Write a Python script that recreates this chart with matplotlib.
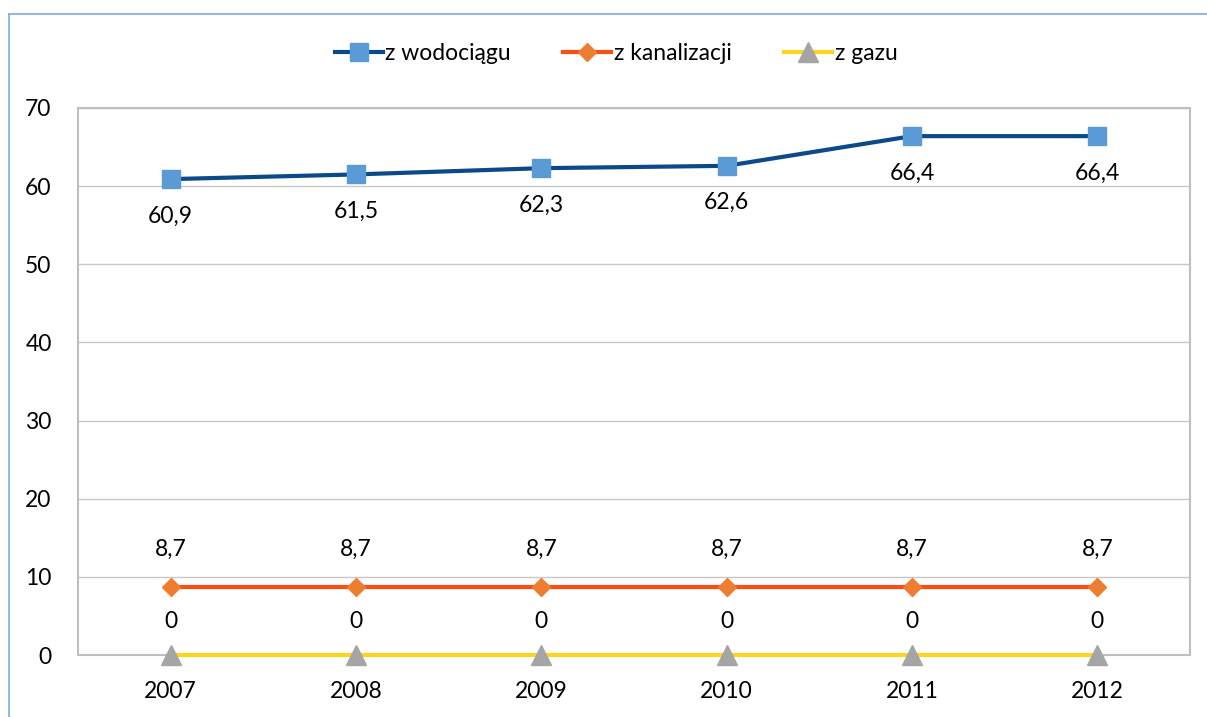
import matplotlib
matplotlib.use("Agg")
import matplotlib.pyplot as plt
from matplotlib.lines import Line2D

years = ["2007", "2008", "2009", "2010", "2011", "2012"]
wodociag = [60.9, 61.5, 62.3, 62.6, 66.4, 66.4]
kanalizacja = [8.7, 8.7, 8.7, 8.7, 8.7, 8.7]
gaz = [0, 0, 0, 0, 0, 0]
series_names = ["z wodociągu", "z kanalizacji", "z gazu"]
y_ticks = [0, 10, 20, 30, 40, 50, 60, 70]

plt.rcParams['font.family'] = ['Lato', 'DejaVu Sans']
FS = 16.5

W, H = 1207, 717
fig = plt.figure(figsize=(W / 100, H / 100), dpi=100)
ax = fig.add_axes([78 / W, 1 - 655 / H, (1190 - 78) / W, (655 - 108) / H])

x = list(range(len(years)))
styles = [
    dict(color="#0B4A8A", marker="s", mfc="#5B9BD5", mec="#5B9BD5", ms=13.5, lw=3.0),
    dict(color="#FC4E14", marker="D", mfc="#ED7D31", mec="#ED7D31", ms=9.5, lw=3.0),
    dict(color="#FFD320", marker="^", mfc="#A5A5A5", mec="#A5A5A5", ms=14, lw=3.0),
]
data = [wodociag, kanalizacja, gaz]
offsets = [-37, 38, 34]
handles = []
for vals, st, name, off in zip(data, styles, series_names, offsets):
    h, = ax.plot(x, vals, label=name, zorder=3, clip_on=False, **st)
    handles.append(h)
    for xi, v in zip(x, vals):
        txt = ("%g" % v).replace(".", ",")
        ax.annotate(txt, (xi, v), xytext=(0, off * 0.72), textcoords="offset points",
                    ha="center", va="center", fontsize=FS, color="#000000")

ax.set_xlim(-0.5, len(years) - 0.5)
ax.set_ylim(0, 70)
ax.set_yticks(y_ticks)
ax.set_yticklabels([str(t) for t in y_ticks], fontsize=FS)
ax.set_xticks(x)
ax.set_xticklabels(years, fontsize=FS)
ax.tick_params(axis="both", length=0)
ax.tick_params(axis="y", pad=19)
ax.tick_params(axis="x", pad=19)
ax.grid(axis="y", color="#C8C8C8", lw=1.0, zorder=0)
for s in ax.spines.values():
    s.set_color("#BFBFBF")
    s.set_linewidth(1.5)

fig.legend(handles=handles, loc="center", bbox_to_anchor=(616 / W, 1 - 54 / H),
           ncol=3, frameon=False, fontsize=FS, handlelength=2.1, handletextpad=0.1,
           columnspacing=2.3)

# outer chart border (left and top visible)
fig.add_artist(Line2D([9 / W, 9 / W], [0, 1 - 14 / H], transform=fig.transFigure,
                      color="#7EAEDB", lw=1.2))
fig.add_artist(Line2D([9 / W, 1], [1 - 14 / H, 1 - 14 / H], transform=fig.transFigure,
                      color="#7EAEDB", lw=1.2))

fig.savefig("out.png", dpi=100)
